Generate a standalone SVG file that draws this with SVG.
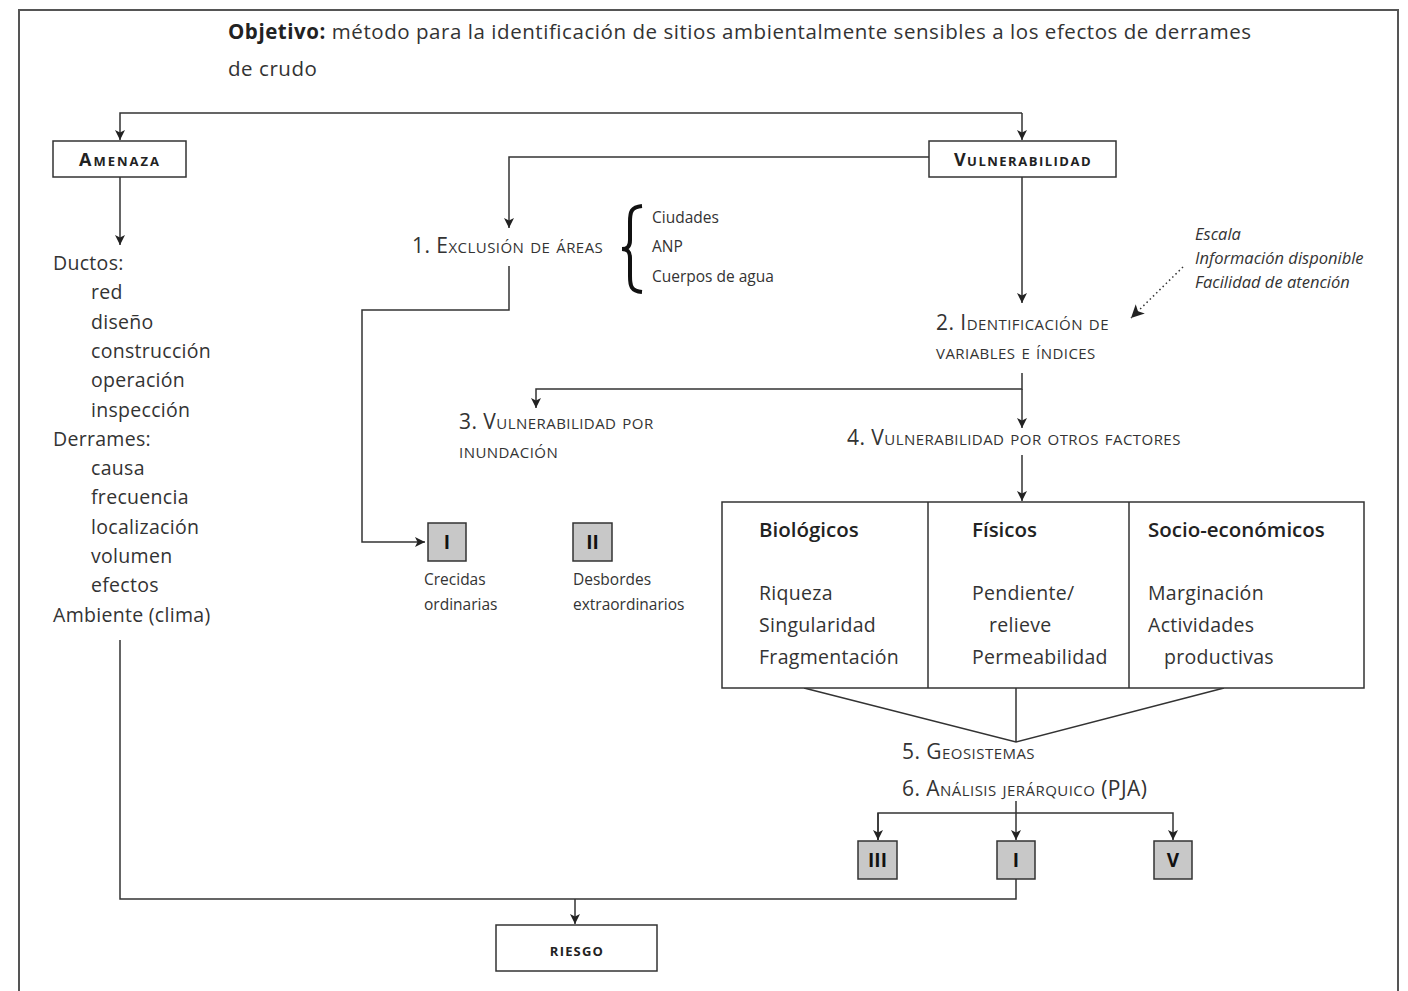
<svg xmlns="http://www.w3.org/2000/svg" width="1408" height="991" viewBox="0 0 1408 991">
<defs>
<marker id="ah" viewBox="0 0 10 10" refX="10" refY="5" markerWidth="10" markerHeight="10" markerUnits="userSpaceOnUse" orient="auto">
<path d="M0,0 L10,5 L0,10 L2.5,5 Z" fill="#222"/>
</marker>
<marker id="ahd" viewBox="0 0 10 10" refX="10" refY="5" markerWidth="15" markerHeight="13" markerUnits="userSpaceOnUse" orient="auto">
<path d="M0,0 L10,5 L0,10 L2.5,5 Z" fill="#222"/>
</marker>
<style>
text{font-family:"Open Sans","Noto Sans","Liberation Sans",sans-serif;fill:#333}
.t{font-size:19.5px;letter-spacing:0.3px}
.sc{font-size:21px;font-variant:small-caps;letter-spacing:0.45px}
.s{font-size:15.5px}
.it{font-size:16.5px;font-style:italic}
.bx{fill:#fff;stroke:#333;stroke-width:1.5}
.gb{fill:#c8c8c8;stroke:#333;stroke-width:1.5}
.gl{font-size:19px;font-weight:bold;fill:#111;text-anchor:middle}
.hd{font-size:20.5px;font-weight:600;fill:#222}
.ln{fill:none;stroke:#333;stroke-width:1.5}
.lb{font-size:18px;font-weight:bold;font-variant:small-caps;fill:#222;text-anchor:middle;letter-spacing:1.5px}
</style>
</defs>
<rect width="1408" height="991" fill="#fff"/>
<path d="M19,991 V10 H1398 V991" fill="none" stroke="#555" stroke-width="2"/>

<g id="title" style="font-size:20.5px;letter-spacing:0.55px">
<text x="228" y="39"><tspan font-weight="bold" fill="#222">Objetivo:</tspan> método para la identificación de sitios ambientalmente sensibles a los efectos de derrames</text>
<text x="228" y="76">de crudo</text>
</g>

<g id="connectors" class="ln">
<path d="M1022,113 H120 V140" marker-end="url(#ah)"/>
<path d="M1022,113 V140" marker-end="url(#ah)"/>
<path d="M120,177 V245" marker-end="url(#ah)"/>
<path d="M929,157 H509 V228" marker-end="url(#ah)"/>
<path d="M509,266 V310 H362 V542 H425" marker-end="url(#ah)"/>
<path d="M1022,177 V303" marker-end="url(#ah)"/>
<path d="M1183,267 L1131,318" stroke-dasharray="1.5,3" marker-end="url(#ahd)"/>
<path d="M1022,373 V389 H536 V408" marker-end="url(#ah)"/>
<path d="M1022,389 V428" marker-end="url(#ah)"/>
<path d="M1022,455 V501" marker-end="url(#ah)"/>
<path d="M804,688 L1016,742 L1224,688 M1016,688 V742"/>
<path d="M1016,801 V840" marker-end="url(#ah)"/>
<path d="M878,840 V813 H1173 V840" marker-end="url(#ah)"/>
<path d="M878,813 V840" marker-end="url(#ah)"/>
<path d="M1016,879 V899 H120 V640"/>
<path d="M575,899 V924" marker-end="url(#ah)"/>
</g>

<g id="amenaza">
<rect class="bx" x="53" y="141" width="133" height="36"/>
<text class="lb" x="120" y="166" style="letter-spacing:2px">Amenaza</text>
</g>

<g id="vulnerabilidad">
<rect class="bx" x="929" y="141" width="187" height="36"/>
<text class="lb" x="1023" y="166">Vulnerabilidad</text>
</g>

<g id="amenaza-list" class="t">
<text x="53" y="270">Ductos:</text>
<text x="91" y="299">red</text>
<text x="91" y="329">diseño</text>
<text x="91" y="358">construcción</text>
<text x="91" y="387">operación</text>
<text x="91" y="417">inspección</text>
<text x="53" y="446">Derrames:</text>
<text x="91" y="475">causa</text>
<text x="91" y="504">frecuencia</text>
<text x="91" y="534">localización</text>
<text x="91" y="563">volumen</text>
<text x="91" y="592">efectos</text>
<text x="53" y="622">Ambiente (clima)</text>
</g>

<g id="exclusion">
<text class="sc" x="412" y="253">1. Exclusión de áreas</text>
<path d="M642,206 C631,207 630,212 630,222 L630,240 C630,246 628,249 622,249 C628,249 630,252 630,258 L630,276 C630,286 631,291 642,292" fill="none" stroke="#111" stroke-width="4"/>
<text class="s" x="652" y="223">Ciudades</text>
<text class="s" x="652" y="252">ANP</text>
<text class="s" x="652" y="282">Cuerpos de agua</text>
</g>

<g id="identificacion">
<text class="sc" x="936" y="330">2. Identificación de</text>
<text class="sc" x="936" y="359">variables e índices</text>
</g>

<g id="criterios" class="it">
<text x="1195" y="240">Escala</text>
<text x="1195" y="264">Información disponible</text>
<text x="1195" y="288">Facilidad de atención</text>
</g>

<g id="inundacion">
<text class="sc" x="459" y="429">3. Vulnerabilidad por</text>
<text class="sc" x="459" y="458">inundación</text>
</g>

<g id="otros">
<text class="sc" x="847" y="445">4. Vulnerabilidad por otros factores</text>
</g>

<g id="clase-I-a">
<rect class="gb" x="428" y="523" width="38" height="38"/>
<text class="gl" x="447" y="549">I</text>
<text class="s" x="424" y="585">Crecidas</text>
<text class="s" x="424" y="610">ordinarias</text>
</g>

<g id="clase-II">
<rect class="gb" x="573" y="523" width="39" height="38"/>
<text class="gl" x="592.5" y="549">II</text>
<text class="s" x="573" y="585">Desbordes</text>
<text class="s" x="573" y="610">extraordinarios</text>
</g>

<g id="factores">
<rect class="bx" x="722" y="502" width="642" height="186"/>
<path class="ln" d="M928,502 V688 M1129,502 V688"/>
<text class="hd" x="759" y="537">Biológicos</text>
<text class="t" x="759" y="600">Riqueza</text>
<text class="t" x="759" y="632">Singularidad</text>
<text class="t" x="759" y="664">Fragmentación</text>
<text class="hd" x="972" y="537">Físicos</text>
<text class="t" x="972" y="600">Pendiente/</text>
<text class="t" x="989" y="632">relieve</text>
<text class="t" x="972" y="664">Permeabilidad</text>
<text class="hd" x="1148" y="537">Socio-económicos</text>
<text class="t" x="1148" y="600">Marginación</text>
<text class="t" x="1148" y="632">Actividades</text>
<text class="t" x="1164" y="664">productivas</text>
</g>

<g id="geosistemas">
<text class="sc" x="902" y="759">5. Geosistemas</text>
<text class="sc" x="902" y="796">6. Análisis jerárquico (PJA)</text>
</g>

<g id="clase-III">
<rect class="gb" x="858" y="841" width="39" height="38"/>
<text class="gl" x="877.5" y="867">III</text>
</g>
<g id="clase-I-b">
<rect class="gb" x="997" y="841" width="38" height="38"/>
<text class="gl" x="1016" y="867">I</text>
</g>
<g id="clase-V">
<rect class="gb" x="1154" y="841" width="38" height="38"/>
<text class="gl" x="1173" y="867">V</text>
</g>

<g id="riesgo">
<rect class="bx" x="496" y="925" width="161" height="46"/>
<text class="lb" x="577" y="956" style="font-size:19px;letter-spacing:1.2px">riesgo</text>
</g>
</svg>
